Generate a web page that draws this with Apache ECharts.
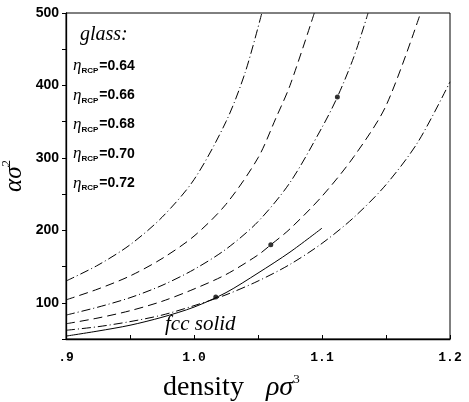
<!DOCTYPE html>
<html>
<head>
<meta charset="utf-8">
<script src="https://cdn.jsdelivr.net/npm/echarts@6/dist/echarts.min.js"></script>
<style>
  html, body { margin: 0; padding: 0; background: #fff; }
  #chart { width: 469px; height: 402px; }
</style>
</head>
<body>
<div id="chart"></div>
<script>
// glass curves, one per eta_RCP as [density, alpha*sigma^2]
const glass064 = [[0.9, 130], [0.925, 152], [0.95, 180], [0.975, 218], [1.0, 270], [1.025, 350], [1.04, 418], [1.053, 500]]
const glass066 = [[0.9, 104], [0.925, 119], [0.95, 137], [0.975, 161], [1.0, 192], [1.025, 236], [1.05, 300], [1.064, 355], [1.075, 400], [1.094, 500]]
const glass068 = [[0.9, 83], [0.925, 94], [0.95, 107], [0.975, 124], [1.0, 146], [1.025, 174], [1.05, 212], [1.075, 266], [1.1, 342], [1.112, 384], [1.125, 440], [1.136, 500]]
const glass070 = [[0.9, 71], [0.925, 79], [0.95, 89], [0.975, 102], [1.0, 119], [1.025, 139], [1.05, 166], [1.06, 180], [1.075, 202], [1.1, 247], [1.125, 302], [1.15, 372], [1.177, 500]]
const glass072 = [[0.9, 62], [0.925, 67], [0.95, 74], [0.975, 83], [1.0, 96], [1.025, 111], [1.05, 130], [1.075, 153], [1.1, 182], [1.125, 218], [1.15, 263], [1.175, 322], [1.2, 405]]
// fcc solid
const fccSolid = [[0.9, 54], [0.925, 61], [0.95, 69], [0.975, 80], [1.0, 94], [1.025, 114], [1.05, 141], [1.075, 170], [1.1, 203]]
// simulation points
const simPoints = [[1.017, 108], [1.06, 180], [1.112, 384]]

const etaLabels = ['0.64', '0.66', '0.68', '0.70', '0.72']
const densityTicks = [0.9, 1.0, 1.1, 1.2]
const densityTickLabels = ['.9', '1.0', '1.1', '1.2']
const alphaTicks = [100, 200, 300, 400, 500]

const dashDot = [9, 3, 1, 3]
const dash = [9, 5]

const chart = echarts.init(document.getElementById('chart'))

const curve = (data, type) => ({
    type: 'line',
    data: data,
    smooth: 0.3,
    symbol: 'none',
    lineStyle: { color: '#000', width: 1, type: type },
    silent: true
})

// legend block top left
const legendText = [
    { type: 'text', left: 80, top: 25, style: { text: 'glass:', font: 'italic 20px "Liberation Serif"', fill: '#000' } }
]
etaLabels.forEach((v, i) => {
    legendText.push({
        type: 'text', left: 73, top: 51 + i * 29.3,
        style: {
            text: '{e|η}{s|RCP}{v|=' + v + '}',
            rich: {
                e: { fontFamily: 'Liberation Serif', fontStyle: 'italic', fontSize: 17, fill: '#000', height: 20, lineHeight: 20 },
                s: { fontFamily: 'Liberation Sans', fontWeight: 'bold', fontSize: 8, fill: '#000', height: 20, lineHeight: 20, padding: [10, 1, 0, 0] },
                v: { fontFamily: 'Liberation Sans', fontWeight: 'bold', fontSize: 14, fill: '#000', height: 20, lineHeight: 20 }
            }
        }
    })
})

// x axis title drawn as text so its spacing can follow the original
const xTitle = {
    type: 'text', left: 163, top: 364,
    style: {
        text: '{a|density}{g| }{b|ρσ}{c|3}',
        rich: {
            a: { fontFamily: 'Liberation Serif', fontSize: 28, fill: '#000', height: 32, lineHeight: 32 },
            g: { fontSize: 28, width: 22, height: 32, lineHeight: 32 },
            b: { fontFamily: 'Liberation Serif', fontStyle: 'italic', fontSize: 28, fill: '#000', height: 32, lineHeight: 32 },
            c: { fontFamily: 'Liberation Serif', fontSize: 13, fill: '#000', height: 32, lineHeight: 32, padding: [0, 0, 15, 0] }
        }
    }
}

const option = {
    animation: false,
    grid: { left: 66, right: 19, top: 13, bottom: 63, outerBoundsMode: 'none', containLabel: false, show: true, borderColor: '#000', borderWidth: 1 },
    xAxis: {
        type: 'value',
        min: 0.9,
        max: 1.2,
        interval: 0.05,
        splitLine: { show: false },
        axisLine: { lineStyle: { color: '#000', width: 1.3 } },
        axisTick: { inside: true, length: 4, lineStyle: { color: '#000' } },
        axisLabel: {
            customValues: densityTicks,
            formatter: v => densityTickLabels[densityTicks.findIndex(t => Math.abs(t - v) < 1e-6)] || '',
            color: '#000',
            fontFamily: 'Liberation Mono',
            fontWeight: 'bold',
            fontSize: 13,
            margin: 12
        }
    },
    yAxis: {
        type: 'value',
        min: 50,
        max: 500,
        interval: 50,
        splitLine: { show: false },
        axisLine: { lineStyle: { color: '#000', width: 1.3 } },
        axisTick: { length: 4, lineStyle: { color: '#000' } },
        axisLabel: {
            customValues: alphaTicks,
            color: '#000',
            fontFamily: 'Liberation Sans',
            fontWeight: 'bold',
            fontSize: 14,
            margin: 7
        },
        name: '{a|ασ}{b|2}',
        nameLocation: 'middle',
        nameGap: 37,
        nameRotate: 90,
        nameMoveOverlap: false,
        nameTextStyle: {
            rich: {
                a: { fontFamily: 'Liberation Serif', fontStyle: 'italic', fontSize: 25, color: '#000', height: 30, lineHeight: 30 },
                b: { fontFamily: 'Liberation Serif', fontSize: 13, color: '#000', height: 30, lineHeight: 30, padding: [0, 0, 14, 0] }
            }
        }
    },
    graphic: legendText.concat([
        xTitle,
        { type: 'text', left: 165, top: 314, style: { text: 'fcc solid', font: 'italic 21px "Liberation Serif"', fill: '#000' } }
    ]),
    series: [
        curve(glass064, dashDot),
        curve(glass066, dash),
        curve(glass068, dashDot),
        curve(glass070, dash),
        curve(glass072, dashDot),
        curve(fccSolid, 'solid'),
        {
            type: 'scatter',
            data: simPoints,
            symbol: 'circle',
            symbolSize: 5,
            itemStyle: { color: '#000' },
            silent: true
        }
    ]
}
chart.setOption(option)
</script>
</body>
</html>
